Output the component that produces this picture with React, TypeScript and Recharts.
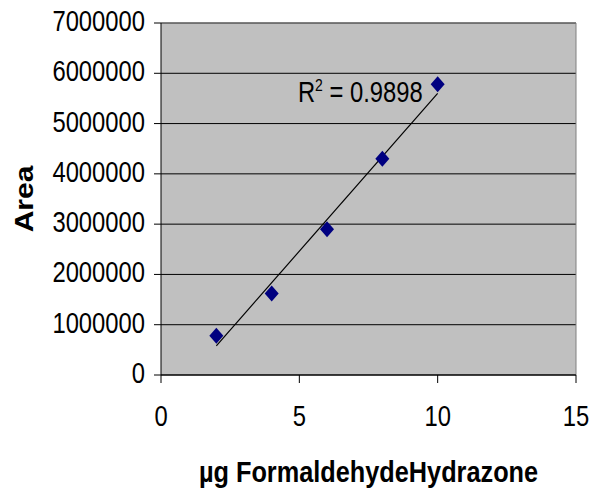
import React from 'react';
import {
  ScatterChart,
  Scatter,
  XAxis,
  YAxis,
  CartesianGrid,
  ReferenceLine,
  ReferenceDot,
  Label,
} from 'recharts';

// calibration points: µg formaldehyde hydrazone vs peak area
const amounts = [2, 4, 6, 8, 10];
const areas = [780000, 1620000, 2900000, 4300000, 5780000];

// linear trendline endpoints as drawn in the chart
const trendX = [2, 10];
const trendY = [580000, 5600000];

const xTicks = [0, 5, 10, 15];
const yTicks = [0, 1000000, 2000000, 3000000, 4000000, 5000000, 6000000, 7000000];

const rSquared = '0.9898';
const rLabelAt = { x: 4.95, y: 5430000 };

const points = amounts.map((x, i) => ({ x, y: areas[i] }));
const trend = trendX.map((x, i) => ({ x, y: trendY[i] }));

const FONT = '"Liberation Sans", Arial, sans-serif';

const Diamond = (props: any) => {
  const { cx, cy } = props;
  if (cx == null || cy == null) return <g />;
  return (
    <polygon
      points={`${cx},${cy - 8} ${cx + 7},${cy} ${cx},${cy + 8} ${cx - 7},${cy}`}
      fill="#000080"
    />
  );
};

const YTick = (props: any) => {
  const { x, y, payload } = props;
  return (
    <text
      transform={`translate(${x},${y + 8}) scale(1,1.2)`}
      textAnchor="end"
      fontFamily={FONT}
      fontSize={23.8}
      fill="#000"
    >
      {payload.value}
    </text>
  );
};

const XTick = (props: any) => {
  const { x, y, payload } = props;
  return (
    <text
      transform={`translate(${x},${y + 41}) scale(1,1.2)`}
      textAnchor="middle"
      fontFamily={FONT}
      fontSize={23.8}
      fill="#000"
    >
      {payload.value}
    </text>
  );
};

export default function App() {
  return (
    <div style={{ position: 'absolute', left: 0, top: 0, background: '#fff' }}>
      <ScatterChart
        width={592}
        height={493}
        margin={{ top: 23, right: 16, bottom: 0, left: 0 }}
      >
        <CartesianGrid
          horizontal
          vertical={false}
          fill="#C0C0C0"
          fillOpacity={1}
          stroke="#000"
          strokeWidth={1}
        />
        <XAxis
          type="number"
          dataKey="x"
          domain={[0, 15]}
          ticks={xTicks}
          interval={0}
          height={118}
          tickSize={8}
          tickMargin={2}
          axisLine={{ stroke: '#000' }}
          tickLine={{ stroke: '#000' }}
          tick={<XTick />}
        >
          <Label
            content={(p: any) => {
              const vb = p.viewBox;
              return (
                <text
                  transform={`translate(${vb.x + vb.width / 2},482) scale(1,1.2)`}
                  textAnchor="middle"
                  fontFamily={FONT}
                  fontWeight="bold"
                  fontSize={25.3}
                  fill="#000"
                >
                  µg FormaldehydeHydrazone
                </text>
              );
            }}
          />
        </XAxis>
        <YAxis
          type="number"
          dataKey="y"
          domain={[0, 7000000]}
          ticks={yTicks}
          interval={0}
          width={161}
          tickSize={7}
          tickMargin={9}
          axisLine={{ stroke: '#000' }}
          tickLine={{ stroke: '#000' }}
          tick={<YTick />}
        >
          <Label
            content={(p: any) => {
              const vb = p.viewBox;
              return (
                <text
                  transform={`translate(33,${vb.y + vb.height / 2}) scale(1,1.2) rotate(-90)`}
                  textAnchor="middle"
                  fontFamily={FONT}
                  fontWeight="bold"
                  fontSize={25}
                  fill="#000"
                >
                  Area
                </text>
              );
            }}
          />
        </YAxis>
        <ReferenceLine y={7000000} stroke="#808080" strokeWidth={1} />
        <ReferenceLine x={15} stroke="#808080" strokeWidth={1} />
        <Scatter
          data={trend}
          line={{ stroke: '#000', strokeWidth: 1.2 }}
          shape={() => <g />}
          isAnimationActive={false}
        />
        <Scatter data={points} shape={<Diamond />} isAnimationActive={false} />
        <ReferenceDot
          x={rLabelAt.x}
          y={rLabelAt.y}
          r={0}
          shape={(p: any) => (
            <text
              transform={`translate(${p.cx},${p.cy}) scale(1,1.2)`}
              textAnchor="start"
              fontFamily={FONT}
              fontSize={23.8}
              fill="#000"
            >
              R<tspan fontSize={14} dy={-9}>2</tspan>
              <tspan dy={9}> = {rSquared}</tspan>
            </text>
          )}
        />
      </ScatterChart>
    </div>
  );
}
